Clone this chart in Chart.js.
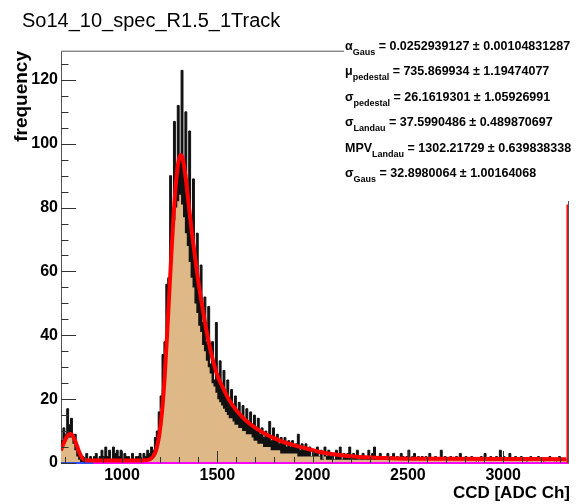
<!DOCTYPE html>
<html>
<head>
<meta charset="utf-8">
<script src="https://cdn.jsdelivr.net/npm/chart.js@4.4.1/dist/chart.umd.min.js"></script>
<style>
html,body{margin:0;padding:0;background:#fff;}
canvas{display:block;}
</style>
</head>
<body>
<canvas id="c" width="576" height="504"></canvas>
<script>
// ---------- data ----------
const chartTitle = "So14_10_spec_R1.5_1Track";
const xAxisTitle = "CCD [ADC Ch]";
const yAxisTitle = "frequency";
const xRange = [680, 3340];
const yRange = [0, 129.15];
const xTickValues = [1000, 1500, 2000, 2500, 3000];
const yTickValues = [0, 20, 40, 60, 80, 100, 120];
const binWidth = 10;
// highest bin content within each 10-ADC slice (top of the black band), starting at 680
const histMax = [
  4,7,11,9,17,12,14,8,9,4,3,1,
  2,1,3,1,2,1,2,3,1,2, 4,2,5,2,4,1,5,3,4,2, 4,1,3,2,2,1,3,1,2,2, 3,1,3,2,4,
  3,5,4,8,10,16,21,34,38,56,58,90,76,107,88,
  112,96,123,92,110,86,104,74,89,62, 72,54,62,44,52,38,49,31,38,26,
  44,27,32,24,29,22,26,19,23,18, 21,16,19,15,18,14,17,13,16,12,
  15,10,14,9,11,8,10,8,13,7, 11,7,9,6,8,6,8,5,7,5, 7,5,6,9,4,6,4,6,4,5,
  2,4,3,5,2,4,1,5,2,4, 2,3,1,4,2,5,1,3,2,3, 5,1,3,2,4,1,2,3,1,2, 4,1,3,5,1,2,3,1,2,1, 3,1,2,3,1,2,1,3,2,1,
  2,4,1,2,3,1,2,1,2,1, 2,1,3,1,1,2,1,1,4,1, 2,1,1,2,1,1,2,1,3,1, 1,2,1,1,2,1,1,0,1,2, 1,3,1,1,2,1,1,2,1,4,
  1,2,1,1,3,1,1,2,1,1, 2,1,1,0,1,2,1,1,1,2, 1,1,0,1,1,2,1,1,0,1, 2,1,1,1
];
// lowest bin content within each 10-ADC slice (top of the tan fill)
const histMin = [
  2,4,6,7,8,8,8,6,4,2,1,0,
  0,0,1,0,0,0,1,0,0,1, 1,0,1,1,1,0,1,1,1,0, 1,0,1,0,0,0,1,0,0,1, 1,0,1,1,1,
  1,1,3,4,7,11,17,24,33,42,52,61,69,76,80,
  82,84,81,77,72,68,63,58,55,50, 47,43,41,37,35,32,30,28,25,24,
  22,20,19,18,17,16,15,14,14,13, 12,12,11,11,10,10,9,9,9,8,
  7,7,6,6,6,5,5,5,5,4, 4,4,4,4,3,3,3,3,3,3, 3,3,3,2,2,2,2,2,2,2,
  2,2,2,2,2,1,1,2,1,1, 1,1,1,1,1,1,1,1,1,1, 1,1,1,1,1,1,1,1,1,1, 1,1,1,1,1,1,1,1,1,1, 1,1,1,1,1,1,1,1,1,1,
  1,1,1,1,1,1,1,1,1,1, 1,1,1,1,1,1,1,1,1,1, 1,1,1,1,1,1,1,1,1,1, 1,1,1,1,1,1,1,0,1,1, 1,1,1,1,1,1,1,1,1,1,
  1,1,1,1,1,1,1,1,1,1, 1,1,1,0,1,1,1,1,1,1, 1,1,0,1,1,1,1,1,0,1, 1,1,1,1
];
// fit function
const fitX = [680,690,700,710,720,730,740,750,760,770,780,790,800,812,830,900,1000,1100,1130,1150,
  1165,1180,1195,1210,1225,1240,1255,1270,1285,1300,1310,1320,1335,1350,1365,1380,1400,1420,1440,1460,
  1480,1500,1530,1560,1600,1650,1700,1750,1800,1850,1900,1950,2000,2050,2100,2200,2300,2400,2500,2700,3000,3330];
const fitY = [4.0,5.6,7.0,8.2,8.9,9.1,8.7,7.6,6.0,4.3,2.8,1.7,1.1,0.85,0.8,0.8,0.8,0.8,0.9,1.3,
  2.2,4.2,8.5,16,28,44,61,77,89,95.5,96.5,95,89,81,73,66,57,49.5,42.5,36.5,
  31.5,27.5,23.5,20,16.5,13.3,11.0,9.2,7.7,6.5,5.6,4.8,4.0,3.3,2.8,2.1,1.7,1.5,1.35,1.3,1.25,1.2];
const overflowX = [3336];
const overflowY = [81];
const pedestalBaseX = [680, 850];
const landauBaseX = [850, 3340];
const statsNames = ["α", "μ", "σ", "σ", "MPV", "σ"];
const statsSubs = ["Gaus", "pedestal", "pedestal", "Landau", "Landau", "Gaus"];
const statsValues = ["0.0252939127", "735.869934", "26.1619301", "37.5990486", "1302.21729", "32.8980064"];
const statsErrors = ["0.00104831287", "1.19474077", "1.05926991", "0.489870697", "0.639838338", "1.00164068"];

// ---------- build ----------
const FONT = "'Liberation Sans', Arial, Helvetica, sans-serif";
function stepPoints(arr) {
  const pts = arr.map((v, i) => ({x: xRange[0] + i * binWidth, y: v}));
  pts.push({x: xRange[0] + arr.length * binWidth, y: arr[arr.length - 1]});
  return pts;
}
const maxPoints = stepPoints(histMax);
const minPoints = stepPoints(histMin);
const fitPoints = fitX.map((x, i) => ({x: x, y: fitY[i]}));
const spikePoints = [];
overflowX.forEach((x, i) => { spikePoints.push({x: x, y: 0}); spikePoints.push({x: x, y: overflowY[i]}); });
const pedPoints = pedestalBaseX.map(x => ({x: x, y: 0}));
const landPoints = landauBaseX.map(x => ({x: x, y: 0}));

const decor = {
  id: 'decor',
  beforeDatasetsDraw(chart) {
    const {ctx, chartArea: a} = chart;
    ctx.save();
    ctx.strokeStyle = '#555';
    ctx.lineWidth = 1;
    ctx.beginPath();
    ctx.moveTo(a.left + 0.5, a.bottom);
    ctx.lineTo(a.left + 0.5, a.top + 0.5);
    ctx.lineTo(a.right + 0.5, a.top + 0.5);
    ctx.lineTo(a.right + 0.5, a.bottom + 0.5);
    ctx.lineTo(a.left, a.bottom + 0.5);
    ctx.stroke();
    ctx.restore();
  },
  afterDatasetsDraw(chart) {
    const {ctx, chartArea: a, scales} = chart;
    const xs = scales.x, ys = scales.y;
    ctx.save();
    ctx.strokeStyle = '#333';
    ctx.lineWidth = 1;
    ctx.beginPath();
    for (let v = 0; v <= ys.max; v += 5) {
      const py = Math.round(ys.getPixelForValue(v)) + 0.5;
      const len = (v % 20 === 0) ? 15 : 7.5;
      ctx.moveTo(a.left, py); ctx.lineTo(a.left + len, py);
    }
    for (let v = Math.ceil(xs.min / 100) * 100; v <= xs.max; v += 100) {
      const px = Math.round(xs.getPixelForValue(v)) + 0.5;
      const len = (v % 500 === 0) ? 12 : 6;
      ctx.moveTo(px, a.bottom); ctx.lineTo(px, a.bottom - len);
    }
    ctx.stroke();
    ctx.restore();
  },
  afterDraw(chart) {
    const {ctx} = chart;
    ctx.save();
    ctx.fillStyle = '#000';
    ctx.font = `20px ${FONT}`;
    ctx.textAlign = 'left';
    ctx.textBaseline = 'alphabetic';
    ctx.fillText(chartTitle, 22, 27);
    ctx.font = `bold 17px ${FONT}`;
    ctx.textAlign = 'right';
    ctx.fillText(xAxisTitle, 570, 498);
    ctx.save();
    ctx.translate(22, 51);
    ctx.rotate(-Math.PI / 2);
    ctx.font = `bold 19px ${FONT}`;
    ctx.textAlign = 'right';
    ctx.textBaseline = 'middle';
    ctx.fillText(yAxisTitle, 0, 0);
    ctx.restore();
    ctx.fillStyle = '#fff';
    ctx.fillRect(344, 31, 232, 170);
    ctx.fillStyle = '#000';
    ctx.textAlign = 'left';
    ctx.textBaseline = 'alphabetic';
    for (let i = 0; i < statsNames.length; i++) {
      const base = 50 + i * 25.4;
      let x = 345;
      ctx.font = `bold 12.5px ${FONT}`;
      ctx.fillText(statsNames[i], x, base);
      x += ctx.measureText(statsNames[i]).width;
      ctx.font = `bold 9px ${FONT}`;
      ctx.fillText(statsSubs[i], x, base + 5);
      x += ctx.measureText(statsSubs[i]).width;
      ctx.font = `bold 12.5px ${FONT}`;
      ctx.fillText(' = ' + statsValues[i] + ' \u00b1 ' + statsErrors[i], x, base);
    }
    ctx.restore();
  }
};

new Chart(document.getElementById('c').getContext('2d'), {
  type: 'line',
  data: {
    datasets: [
      {label: 'histMax', data: maxPoints, stepped: 'after', borderColor: '#111', borderWidth: 1,
       backgroundColor: '#111', fill: 'origin', pointRadius: 0, order: 7},
      {label: 'histMin', data: minPoints, stepped: 'after', borderWidth: 0, borderColor: 'rgba(0,0,0,0)',
       backgroundColor: 'rgb(222,184,135)', fill: 'origin', pointRadius: 0, order: 6},
      {label: 'pedestal', data: pedPoints, borderColor: '#2f4fff', borderWidth: 2, pointRadius: 0, fill: false, clip: false, order: 5},
      {label: 'landau', data: landPoints, borderColor: '#ff00ff', borderWidth: 2, pointRadius: 0, fill: false, clip: false, order: 4},
      {label: 'overflow', data: spikePoints, borderColor: '#ff0000', borderWidth: 1.5, pointRadius: 0, fill: false, order: 3},
      {label: 'fit', data: fitPoints, borderColor: '#ff0000', borderWidth: 4, pointRadius: 0, fill: false,
       cubicInterpolationMode: 'monotone', order: 1}
    ]
  },
  options: {
    responsive: false,
    animation: false,
    devicePixelRatio: 1,
    layout: {padding: {left: 0, right: 8, top: 50.7, bottom: 0}},
    plugins: {legend: {display: false}, tooltip: {enabled: false}, title: {display: false}},
    scales: {
      x: {
        type: 'linear', min: xRange[0], max: xRange[1],
        afterFit: s => { s.height = 41; },
        afterBuildTicks: s => { s.ticks = xTickValues.map(v => ({value: v})); },
        grid: {display: false, drawTicks: false},
        border: {display: false},
        ticks: {font: {family: FONT, size: 16, weight: 'bold'}, color: '#000', padding: 3, maxRotation: 0, autoSkip: false,
                callback: v => String(v)}
      },
      y: {
        type: 'linear', min: yRange[0], max: yRange[1],
        afterFit: s => { s.width = 61; },
        afterBuildTicks: s => { s.ticks = yTickValues.map(v => ({value: v})); },
        grid: {display: false, drawTicks: false},
        border: {display: false},
        ticks: {font: {family: FONT, size: 16, weight: 'bold'}, color: '#000', padding: 3, autoSkip: false,
                callback: v => String(v)}
      }
    }
  },
  plugins: [decor]
});
</script>
</body>
</html>
